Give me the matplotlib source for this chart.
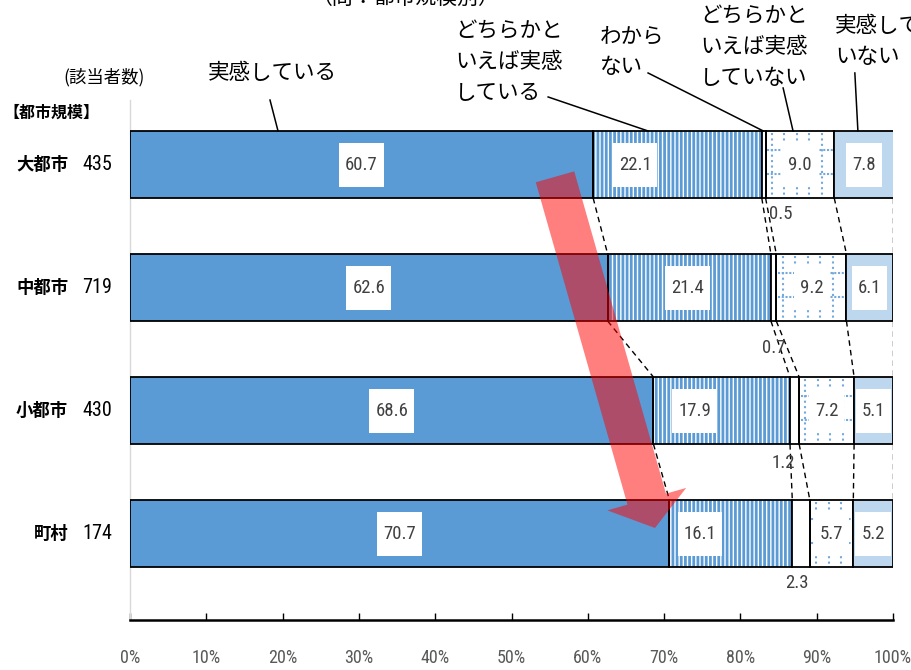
import matplotlib
matplotlib.use("Agg")
import matplotlib.pyplot as plt
import matplotlib.transforms as mtransforms
from matplotlib import font_manager
from matplotlib.patches import Rectangle, FancyArrow
import numpy as np

plt.rcParams['font.family'] = ['Noto Sans CJK JP', 'DejaVu Sans']
plt.rcParams['hatch.linewidth'] = 2.0

_installed = {f.name for f in font_manager.fontManager.ttflist}
NUM_FONT = next((f for f in ['Liberation Sans Narrow', 'DejaVu Sans Condensed',
                             'Roboto Condensed', 'Liberation Sans']
                 if f in _installed), 'DejaVu Sans')

# ---- data -------------------------------------------------------------
cities = ['大都市', '中都市', '小都市', '町村']
respondents = [435, 719, 430, 174]
category_labels = ['実感している', 'どちらかと\nいえば実感\nしている', 'わから\nない',
                   'どちらかと\nいえば実感\nしていない', '実感して\nいない']
felt = [60.7, 62.6, 68.6, 70.7]
rather_felt = [22.1, 21.4, 17.9, 16.1]
unknown = [0.5, 0.7, 1.2, 2.3]
rather_not = [9.0, 9.2, 7.2, 5.7]
not_felt = [7.8, 6.1, 5.1, 5.2]
tick_values = [0, 10, 20, 30, 40, 50, 60, 70, 80, 90, 100]
title_text = '（問：都市規模別）'

# ---- layout -----------------------------------------------------------
BAR_H = 0.545
BLUE = '#5B9BD5'
LIGHT = '#BDD7EE'
DOT = '#74A9DE'
VAL_COLOR = '#404040'
# x of the value labels on the striped segment (%)
rather_felt_label_x = [66.2, 73.1, 74.0, 74.7]
# offsets of the small "わからない" labels (x in %, y in rows)
unknown_label_dx = [2.2, 0.0, -1.5, -0.5]
unknown_label_dy = [0.40, 0.49, 0.43, 0.40]
# category label anchors (x %, y rows, ha) and leader line start points
cat_anchor = [(18.6, -0.744, 'center'), (42.6, -0.833, 'left'),
              (61.6, -0.915, 'left'), (74.7, -0.955, 'left'),
              (92.4, -1.0, 'left')]
leader = [((18.35, -0.524), 19.4), ((54.8, -0.549), 67.9),
          ((67.9, -0.744), 83.0), ((85.6, -0.622), 86.9),
          ((95.0, -0.744), 95.4)]

fig = plt.figure(figsize=(9.12, 6.70), dpi=100)
ax = fig.add_axes([130 / 912, 50 / 670, 763 / 912, 520 / 670])
ax.set_xlim(0, 100)
ax.set_ylim(3.703, -0.5244)

y = np.arange(len(cities))
series = [felt, rather_felt, unknown, rather_not, not_felt]
lefts = np.vstack([np.zeros(len(cities)), np.cumsum(series, axis=0)])

# segments
ax.barh(y, felt, left=lefts[0], height=BAR_H, color=BLUE,
        edgecolor='black', lw=1.3, zorder=3)
ax.barh(y, rather_felt, left=lefts[1], height=BAR_H, color='white',
        edgecolor=BLUE, hatch='||||', lw=0, zorder=2)
ax.barh(y, rather_felt, left=lefts[1], height=BAR_H, fill=False,
        edgecolor='black', lw=1.3, zorder=3)
ax.barh(y, unknown, left=lefts[2], height=BAR_H, color='white',
        edgecolor='black', lw=1.3, zorder=3)
ax.barh(y, rather_not, left=lefts[3], height=BAR_H, color='white',
        edgecolor='none', lw=0, zorder=2)
ax.barh(y, rather_not, left=lefts[3], height=BAR_H, fill=False,
        edgecolor='black', lw=1.3, zorder=3)
ax.barh(y, not_felt, left=lefts[4], height=BAR_H, color=LIGHT,
        edgecolor='black', lw=1.3, zorder=3)

# dotted grid fill of the "rather not" segment
step = 1.64
for i in range(len(cities)):
    x0, x1 = lefts[3][i], lefts[4][i]
    top, bot = i - BAR_H / 2, i + BAR_H / 2
    xs = np.arange(x0 + step / 2, x1 - 0.2, step)
    ax.vlines(xs, top + 0.02, bot - 0.02, colors=DOT, lw=1.5,
              linestyles=(0, (1, 1.6)), zorder=2.5)
    for frac in (0.28, 0.64):
        ax.hlines(top + frac * BAR_H, x0 + 0.2, x1 - 0.2, colors=DOT, lw=1.5,
                  linestyles=(0, (1, 0.8)), zorder=2.5)

# dashed connectors between boundaries of consecutive bars
for k in range(1, lefts.shape[0]):
    for i in range(len(cities) - 1):
        xa = min(lefts[k][i], 100)
        xb = min(lefts[k][i + 1], 100)
        ax.plot([xa, xb], [i + BAR_H / 2, i + 1 - BAR_H / 2], color='black',
                lw=1.0, dashes=(4, 3), zorder=2)

# value labels
value_texts = []
for k, vals in enumerate(series):
    for i, v in enumerate(vals):
        if k == 2:
            ax.text(lefts[k][i] + v / 2 + unknown_label_dx[i], i + unknown_label_dy[i],
                    f'{v:.1f}', ha='center', va='center', family=NUM_FONT,
                    fontsize=13.5, color=VAL_COLOR, zorder=5)
            continue
        x = rather_felt_label_x[i] if k == 1 else lefts[k][i] + v / 2
        t = ax.text(x, i, f'{v:.1f}', ha='center', va='center', family=NUM_FONT,
                    fontsize=13.5, color=VAL_COLOR, zorder=5)
        value_texts.append((t, x, i))

# axis styling
ax.spines['top'].set_visible(False)
ax.spines['right'].set_visible(False)
ax.spines['left'].set_color('#D9D9D9')
ax.spines['left'].set_linewidth(1.0)
ax.spines['bottom'].set_linewidth(1.8)
ax.set_yticks([])
ax.set_xticks(tick_values)
ax.set_xticklabels([f'{v}%' for v in tick_values], family=NUM_FONT,
                   fontsize=13, color='#595959')
ax.tick_params(axis='x', direction='in', length=5, width=1.0, pad=21)

# row labels
for i, (c, n) in enumerate(zip(cities, respondents)):
    ax.text(-8.1, i, c, ha='right', va='center', fontsize=12.5, weight='bold',
            clip_on=False)
    ax.text(-2.36, i, str(n), ha='right', va='center', family=NUM_FONT,
            fontsize=14.5, clip_on=False)
ax.text(-3.4, -0.711, '(該当者数)', ha='center', va='center', fontsize=12.5,
        clip_on=False)
ax.text(-16.6, -0.419, '【都市規模】', ha='left', va='center', fontsize=11.5,
        weight='bold', clip_on=False)

# category labels with leader lines
for lab, (cx, cy, ha), ((lx, ly), bx) in zip(category_labels, cat_anchor, leader):
    ax.text(cx, cy, lab, ha=ha, va='center', fontsize=15.5, linespacing=1.5,
            clip_on=False)
    ax.plot([lx, bx], [ly, -BAR_H / 2], color='black', lw=1.1, clip_on=False,
            zorder=4)

fig.text(405 / 912, 1 - 4 / 670, title_text, ha='center', va='baseline',
         fontsize=15)

# white boxes behind value labels (sized from the rendered text)
fig.canvas.draw()
renderer = fig.canvas.get_renderer()
ident = mtransforms.IdentityTransform()
for t, x, yy in value_texts:
    bb = t.get_window_extent(renderer)
    cx, cy = ax.transData.transform((x, yy))
    w, h = bb.width + 12, 44
    ax.add_patch(Rectangle((cx - w / 2, cy - h / 2), w, h, transform=ident,
                           facecolor='white', edgecolor='none', zorder=4))

# trend arrow
p0 = ax.transData.transform((55.7, 0.10))
p1 = ax.transData.transform((68.8, 2.955))
arrow = FancyArrow(p0[0], p0[1], p1[0] - p0[0], p1[1] - p0[1], width=40,
                   head_width=82, head_length=30, length_includes_head=True,
                   transform=ident, facecolor='red', edgecolor='none',
                   alpha=0.5, zorder=6)
ax.add_patch(arrow)
arrow.set_clip_on(False)

fig.savefig('out.png', dpi=100)
